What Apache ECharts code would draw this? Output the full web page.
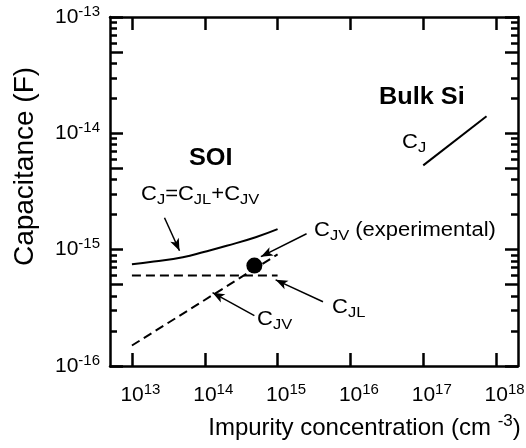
<!DOCTYPE html>
<html><head><meta charset="utf-8">
<script src="https://cdn.jsdelivr.net/npm/echarts@6/dist/echarts.min.js"></script>
<style>html,body{margin:0;padding:0;background:#fff}#c{width:526px;height:448px}</style>
</head><body><div id="c"></div>
<script>
// ---- data ----
const xTickValues = [1e13, 1e14, 1e15, 1e16, 1e17, 1e18];
const yLabelValues = [1e-16, 1e-15, 1e-14, 1e-13];
const yMajorTicks = [1e-16, 5e-16, 1e-15, 5e-15, 1e-14, 5e-14, 1e-13];
const yMinorTicks = [2e-16, 3e-16, 4e-16, 6e-16, 7e-16, 8e-16, 9e-16,
                     2e-15, 3e-15, 4e-15, 6e-15, 7e-15, 8e-15, 9e-15,
                     2e-14, 3e-14, 4e-14, 6e-14, 7e-14, 8e-14, 9e-14];

// SOI total junction capacitance C_J = C_JL + C_JV (solid)
const soiN  = [1e13, 2e13, 5e13, 1e14, 2e14, 5e14, 1e15];
const soiCJ = [7.5e-16, 7.9e-16, 8.6e-16, 9.6e-16, 1.08e-15, 1.28e-15, 1.5e-15];
// C_JL (dashed, horizontal)
const cjlN = [1e13, 1e15];
const cjl  = [6.0e-16, 6.0e-16];
// C_JV (dashed, rising)
const cjvN = [1e13, 1e15];
const cjv  = [1.5e-16, 9.1e-16];
// Bulk Si C_J (solid)
const bulkN  = [1e17, 7.4e17];
const bulkCJ = [5.3e-15, 1.4e-14];
// experimental C_JV point
const expN  = [4.8e14];
const expCJ = [7.3e-16];
// annotation arrows: tail -> head
const arrowTails = [[2.8e13, 1.88e-15], [2.5e15, 1.37e-15], [4.2e15, 3.57e-16], [4.8e14, 2.71e-16]];
const arrowHeads = [[4.5e13, 9.8e-16], [5.9e14, 8.7e-16], [9.4e14, 5.5e-16], [1.28e14, 4.27e-16]];

// ---- chart ----
const FONT = "'Liberation Sans', Arial, Helvetica, sans-serif";
const BLACK = '#000';
const zip = (a, b) => a.map((v, i) => [v, b[i]]);

const powRich = {
  b: { fontSize: 21, fontFamily: FONT, color: BLACK, lineHeight: 26 },
  s: { fontSize: 15, fontFamily: FONT, color: BLACK, lineHeight: 15, padding: [0, 0, 11, 0] }
};
const powFmt = v => '{b|10}{s|' + Math.round(Math.log10(v)) + '}';

function xAx(pos, labels) {
  return {
    type: 'log', logBase: 10, min: 5e12, max: 2e18, position: pos,
    axisLine: { show: true, lineStyle: { color: BLACK, width: 2.5 } },
    axisTick: { show: true, inside: true, length: 13, customValues: xTickValues, lineStyle: { color: BLACK, width: 2.5 } },
    axisLabel: labels ? { show: true, customValues: xTickValues, margin: 16, padding: [0, 0, 0, 17],
                          formatter: powFmt, rich: powRich } : { show: false },
    splitLine: { show: false }, minorTick: { show: false }, minorSplitLine: { show: false }
  };
}
function yAx(pos, ticks, len, labels, line) {
  return {
    type: 'log', logBase: 10, min: 1e-16, max: 1e-13, position: pos,
    axisLine: { show: line, lineStyle: { color: BLACK, width: 2.5 } },
    axisTick: { show: true, inside: true, length: len, customValues: ticks, lineStyle: { color: BLACK, width: 2.5 } },
    axisLabel: labels ? { show: true, customValues: yLabelValues, margin: 10, formatter: powFmt, rich: powRich } : { show: false },
    splitLine: { show: false }, minorTick: { show: false }, minorSplitLine: { show: false }
  };
}

const xAxes = [xAx('bottom', true), xAx('top', false)];
xAxes[0].name = '{n|Impurity concentration (cm }{s|-3}{n|)}';
xAxes[0].nameLocation = 'middle';
xAxes[0].nameGap = 37;
xAxes[0].nameTextStyle = {
  padding: [0, 0, 0, 101],
  rich: {
    n: { fontSize: 24, fontFamily: FONT, color: BLACK, lineHeight: 30 },
    s: { fontSize: 17, fontFamily: FONT, color: BLACK, lineHeight: 17, padding: [0, 0, 13, 0] }
  }
};
const yAxes = [
  yAx('left', yMajorTicks, 13, true, true),
  yAx('left', yMinorTicks, 7, false, false),
  yAx('right', yMajorTicks, 13, false, true),
  yAx('right', yMinorTicks, 7, false, false)
];
yAxes[0].name = 'Capacitance (F)';
yAxes[0].nameLocation = 'middle';
yAxes[0].nameGap = 71;
yAxes[0].nameTextStyle = { fontSize: 28, fontFamily: FONT, color: BLACK, padding: [0, 0, 0, 50] };

function label(text, left, top, rich) {
  return { type: 'text', left: left, top: top, z: 100, scaleX: 1.1,
    style: { text: text, rich: rich, fill: BLACK } };
}
const annRich = {
  m: { fontSize: 20, fontFamily: FONT, fill: BLACK, color: BLACK, lineHeight: 23 },
  s: { fontSize: 15, fontFamily: FONT, fill: BLACK, color: BLACK, lineHeight: 15, padding: [10, 0, 0, 0] },
  bold: { fontSize: 23, fontWeight: 'bold', fontFamily: FONT, fill: BLACK, color: BLACK }
};

const chart = echarts.init(document.getElementById('c'), null, { renderer: 'canvas' });
chart.setOption({
  backgroundColor: '#fff',
  animation: false,
  grid: { left: 110, top: 17, right: 8, bottom: 82, containLabel: false, outerBoundsMode: 'none' },
  xAxis: xAxes,
  yAxis: yAxes,
  series: [
    { type: 'line', data: zip(soiN, soiCJ), showSymbol: false, smooth: true,
      lineStyle: { color: BLACK, width: 2 } },
    { type: 'line', data: zip(cjlN, cjl), showSymbol: false,
      lineStyle: { color: BLACK, width: 2, type: [9, 5] } },
    { type: 'line', data: zip(cjvN, cjv), showSymbol: false,
      lineStyle: { color: BLACK, width: 2, type: [9, 5] } },
    { type: 'line', data: zip(bulkN, bulkCJ), showSymbol: false,
      lineStyle: { color: BLACK, width: 2 } },
    { type: 'scatter', data: zip(expN, expCJ), symbol: 'circle', symbolSize: 16,
      itemStyle: { color: BLACK, opacity: 1 }, z: 5 },
    { type: 'line', data: [], silent: true,
      markLine: {
        silent: true, animation: false, symbol: ['none', 'arrow'], symbolSize: [7, 12],
        label: { show: false },
        lineStyle: { color: BLACK, width: 1.5, type: 'solid' },
        data: arrowTails.map((t, i) => [{ coord: t }, { coord: arrowHeads[i] }])
      } }
  ],
  graphic: [
    label('{bold|SOI}', 189, 147, annRich),
    label('{bold|Bulk Si}', 379, 86, annRich),
    label('{m|C}{s|J}{m|=C}{s|JL}{m|+C}{s|JV}', 141, 182, annRich),
    label('{m|C}{s|JV}{m| (experimental)}', 314, 218, annRich),
    label('{m|C}{s|JL}', 332, 295, annRich),
    label('{m|C}{s|JV}', 257, 307, annRich),
    label('{m|C}{s|J}', 402, 130, annRich)
  ]
});
</script></body></html>
